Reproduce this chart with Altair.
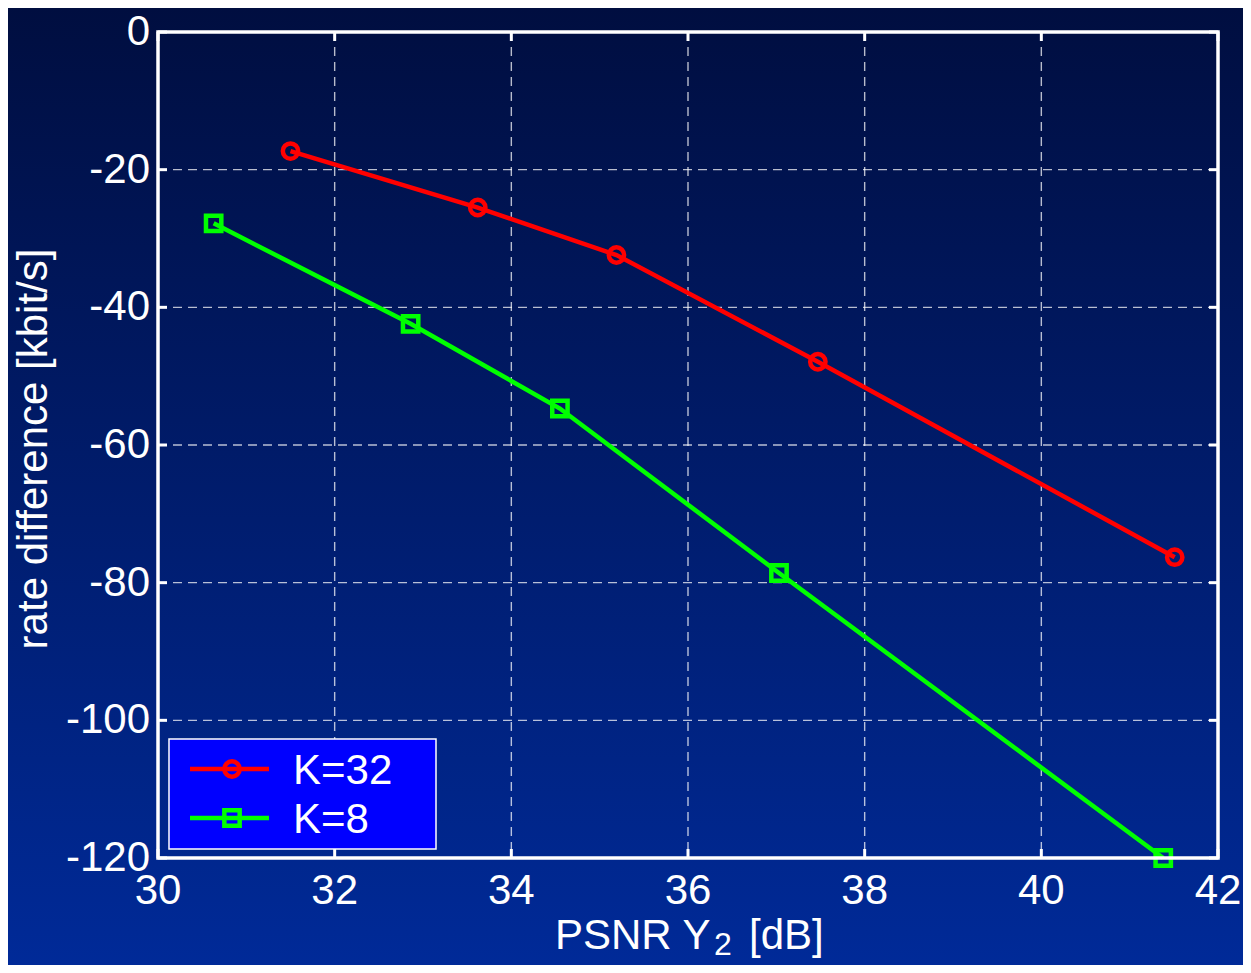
import altair as alt
import pandas as pd

# ---- data ----
series_names = ["K=32", "K=8"]
series_colors = ["#ff0000", "#00ff00"]
series_shapes = ["circle", "square"]

k32_psnr = [31.50, 33.62, 35.19, 37.47, 41.51]
k32_rate = [-17.3, -25.5, -32.4, -47.9, -76.3]
k8_psnr = [30.63, 32.86, 34.55, 37.03, 41.38]
k8_rate = [-27.8, -42.4, -54.7, -78.6, -120.0]

x_ticks = [30, 32, 34, 36, 38, 40, 42]
x_tick_labels = ["30", "32", "34", "36", "38", "40", "42"]
y_ticks = [0, -20, -40, -60, -80, -100, -120]
y_tick_labels = ["0", "-20", "-40", "-60", "-80", "-100", "-120"]
x_grid = [32, 34, 36, 38, 40]
y_grid = [-20, -40, -60, -80, -100]

x_title_parts = ["PSNR Y", "2", "[dB]"]
y_title = "rate difference [kbit/s]"

# ---- layout ----
W, H = 1060, 826
PL, PT = 150, 24
PR = 1235 - PL - W
PB = 957 - PT - H
FONT = "Liberation Sans"
FS = 42

df = pd.DataFrame({
    "series": ["K=32"] * len(k32_psnr) + ["K=8"] * len(k8_psnr),
    "psnr": k32_psnr + k8_psnr,
    "rate": k32_rate + k8_rate,
    "order": list(range(len(k32_psnr))) + list(range(len(k8_psnr))),
})

xscale = alt.Scale(domain=[30, 42], nice=False, zero=False)
yscale = alt.Scale(domain=[-120, 0], nice=False, zero=False)
color_scale = alt.Scale(domain=series_names, range=series_colors)
shape_scale = alt.Scale(domain=series_names, range=series_shapes)

one = alt.Data(values=[{"a": 0}])

# background gradient
bg = alt.Chart(one).mark_rect(
    fill=alt.LinearGradient(
        gradient="linear",
        stops=[alt.GradientStop(offset=0, color="#000e40"),
               alt.GradientStop(offset=1, color="#002a98")],
        x1=0, x2=0, y1=0, y2=1,
    )
).encode(x=alt.value(-PL), x2=alt.value(W + PR), y=alt.value(-PT), y2=alt.value(H + PB))

grid_style = dict(color="white", opacity=0.72, strokeWidth=1.4, strokeDash=[9, 6])
gx = alt.Chart(pd.DataFrame({"v": x_grid})).mark_rule(**grid_style).encode(
    x=alt.X("v:Q", scale=xscale, axis=None), y=alt.value(0), y2=alt.value(H))
gy = alt.Chart(pd.DataFrame({"v": y_grid})).mark_rule(**grid_style).encode(
    y=alt.Y("v:Q", scale=yscale, axis=None), x=alt.value(0), x2=alt.value(W))

tick_style = dict(color="white", strokeWidth=3)
TL = 9
tb = alt.Chart(pd.DataFrame({"v": x_ticks})).mark_rule(**tick_style).encode(
    x=alt.X("v:Q", scale=xscale, axis=None), y=alt.value(H - TL), y2=alt.value(H))
tt = alt.Chart(pd.DataFrame({"v": x_ticks})).mark_rule(**tick_style).encode(
    x=alt.X("v:Q", scale=xscale, axis=None), y=alt.value(0), y2=alt.value(TL))
tl = alt.Chart(pd.DataFrame({"v": y_ticks})).mark_rule(**tick_style).encode(
    y=alt.Y("v:Q", scale=yscale, axis=None), x=alt.value(0), x2=alt.value(TL))
tr = alt.Chart(pd.DataFrame({"v": y_ticks})).mark_rule(**tick_style).encode(
    y=alt.Y("v:Q", scale=yscale, axis=None), x=alt.value(W - TL), x2=alt.value(W))

# tick labels (drawn through the scales)
xlab = alt.Chart(pd.DataFrame({"v": x_ticks, "t": x_tick_labels})).mark_text(
    align="center", baseline="top", font=FONT, fontSize=FS, color="white").encode(
    x=alt.X("v:Q", scale=xscale, axis=None), y=alt.value(H + 13), text="t:N")
ylab = alt.Chart(pd.DataFrame({"v": y_ticks, "t": y_tick_labels})).mark_text(
    align="right", baseline="middle", font=FONT, fontSize=FS, color="white").encode(
    y=alt.Y("v:Q", scale=yscale, axis=None), x=alt.value(-8), text="t:N")

lines = alt.Chart(df).mark_line(strokeWidth=4.5).encode(
    x=alt.X("psnr:Q", scale=xscale, axis=None),
    y=alt.Y("rate:Q", scale=yscale, axis=None),
    color=alt.Color("series:N", scale=color_scale, legend=None),
    order="order:Q",
)
points = alt.Chart(df).mark_point(filled=False, strokeWidth=4.5, opacity=1).encode(
    x=alt.X("psnr:Q", scale=xscale, axis=None),
    y=alt.Y("rate:Q", scale=yscale, axis=None),
    color=alt.Color("series:N", scale=color_scale, legend=None),
    shape=alt.Shape("series:N", scale=shape_scale, legend=None),
    size=alt.Size("series:N", scale=alt.Scale(domain=series_names, range=[235, 235]), legend=None),
)

frame = alt.Chart(one).mark_rect(fill=None, stroke="white", strokeWidth=3.5).encode(
    x=alt.value(0), x2=alt.value(W), y=alt.value(0), y2=alt.value(H))

# legend
legend_layers = [
    alt.Chart(one).mark_rect(fill="#0000ff", stroke="white", strokeWidth=1.5).encode(
        x=alt.value(11), x2=alt.value(278), y=alt.value(H - 119), y2=alt.value(H - 9))
]
row_y = [H - 89, H - 40]
for name, col, shp, ry in zip(series_names, series_colors, series_shapes, row_y):
    d = alt.Data(values=[{"label": name}])
    legend_layers.append(alt.Chart(d).mark_rule(color=col, strokeWidth=4.5).encode(
        x=alt.value(32), x2=alt.value(111), y=alt.value(ry)))
    legend_layers.append(alt.Chart(d).mark_point(shape=shp, filled=False, color=col, strokeWidth=4.5,
                                                 size=235, opacity=1).encode(
        x=alt.value(74), y=alt.value(ry)))
    legend_layers.append(alt.Chart(d).mark_text(align="left", baseline="middle", font=FONT,
                                                fontSize=FS, color="white").encode(
        x=alt.value(135), y=alt.value(ry + 2), text="label:N"))

# axis titles
title_layers = [
    alt.Chart(alt.Data(values=[{"t": y_title}])).mark_text(
        align="center", baseline="alphabetic", angle=270, font=FONT, fontSize=FS, color="white").encode(
        x=alt.value(-111), y=alt.value(H / 2 + 4), text="t:N")
]
xt_specs = [(x_title_parts[0], 397, H + 91, FS), (x_title_parts[1], 556, H + 97, 32),
            (x_title_parts[2], 591, H + 91, FS)]
for t, px, py, fs in xt_specs:
    title_layers.append(alt.Chart(alt.Data(values=[{"t": t}])).mark_text(
        align="left", baseline="alphabetic", font=FONT, fontSize=fs, color="white").encode(
        x=alt.value(px), y=alt.value(py), text="t:N"))

chart = alt.layer(
    bg, gx, gy, tb, tt, tl, tr, lines, points, frame, xlab, ylab, *legend_layers, *title_layers
).properties(
    width=W, height=H,
    autosize=alt.AutoSizeParams(type="none"),
    padding={"left": PL, "top": PT, "right": PR, "bottom": PB},
).configure(
    background="#001c6b", font=FONT
).configure_view(stroke=None)

chart.save("out.html", embed_options={"renderer": "svg", "actions": False})
